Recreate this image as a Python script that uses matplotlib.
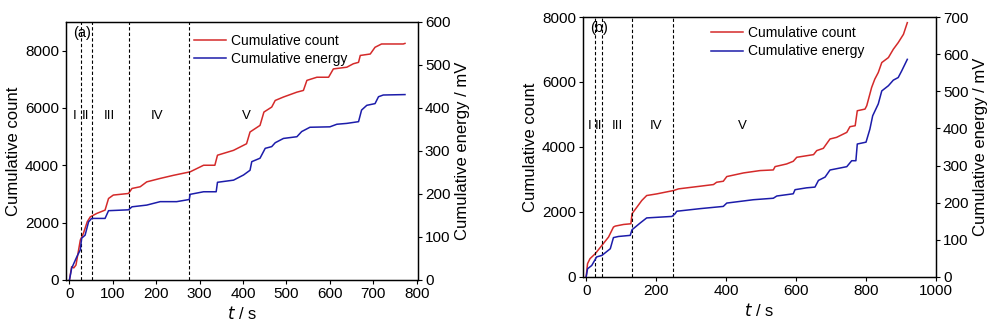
import numpy as np
import matplotlib
matplotlib.use("Agg")
import matplotlib.pyplot as plt

plt.rcParams["font.family"] = ["Liberation Sans", "DejaVu Sans"]
plt.rcParams["axes.linewidth"] = 0.9

RED = "#d42a2a"
BLUE = "#1c1caa"

# ---- panel (a) ----
A_CNT_T = [0, 5, 10, 15, 25, 32, 41, 48, 63, 82, 90, 101, 136, 144, 163, 178, 209, 240, 278,
           309, 335, 341, 378, 408, 416, 439, 448, 466, 474, 493, 524, 539, 547, 570, 597,
           608, 639, 654, 666, 670, 693, 704, 719, 769, 773]
A_CNT = [0, 460, 420, 520, 1390, 1620, 2030, 2200, 2320, 2435, 2840, 2960, 3015, 3190, 3250,
         3420, 3540, 3650, 3770, 4000, 4000, 4350, 4520, 4750, 5160, 5390, 5855, 6030, 6260,
         6380, 6550, 6610, 6960, 7070, 7070, 7360, 7420, 7540, 7590, 7830, 7880, 8115, 8230,
         8230, 8250]
A_EN_T = [0, 5, 17, 25, 28, 36, 44, 51, 82, 90, 136, 144, 178, 209, 247, 276, 278, 309, 338,
          341, 378, 401, 416, 420, 439, 451, 466, 474, 493, 524, 535, 554, 600, 616, 639, 666,
          673, 685, 704, 712, 723, 773]
A_EN = [0, 27, 54, 70, 97, 104, 135, 143, 143, 161, 163, 170, 174, 182, 182, 187, 199, 205,
        205, 227, 232, 244, 255, 275, 283, 306, 310, 319, 329, 333, 345, 355, 356, 362, 364,
        368, 395, 406, 410, 426, 430, 431]
A_DIV = [26, 51, 138, 276]
A_STAGE_X = [13, 38, 91, 201, 407]

# ---- panel (b) ----
B_CNT_T = [0, 4, 11, 26, 45, 64, 78, 83, 107, 128, 131, 145, 159, 173, 202, 226, 250, 264,
           326, 364, 373, 392, 402, 450, 497, 535, 540, 573, 592, 602, 650, 659, 678, 697,
           716, 745, 754, 769, 775, 797, 802, 816, 825, 835, 845, 864, 878, 892, 907, 918]
B_CNT = [0, 410, 563, 716, 972, 1228, 1535, 1565, 1616, 1637, 1944, 2148, 2353, 2506, 2557,
         2609, 2660, 2711, 2793, 2844, 2915, 2946, 3090, 3202, 3274, 3294, 3396, 3478, 3560,
         3683, 3765, 3888, 3959, 4246, 4297, 4450, 4624, 4655, 5115, 5166, 5269, 5831, 6087,
         6292, 6598, 6752, 7008, 7212, 7468, 7826]
B_EN_T = [0, 4, 16, 30, 45, 69, 78, 92, 126, 131, 154, 173, 245, 254, 259, 326, 392, 402,
          478, 535, 545, 592, 597, 630, 654, 664, 683, 697, 745, 759, 771, 775, 800, 811, 819,
          835, 845, 864, 878, 892, 902, 918]
B_EN = [0, 22, 31, 54, 58, 76, 106, 109, 112, 127, 145, 159, 163, 170, 177, 184, 190, 199,
        208, 212, 218, 224, 235, 240, 242, 260, 269, 288, 297, 313, 313, 358, 363, 398, 434,
        466, 501, 515, 530, 537, 555, 586]
B_DIV = [26, 45, 130, 249]
B_STAGE_X = [10, 35, 90, 200, 447]

STAGES = ["I", "II", "III", "IV", "V"]

fig = plt.figure(figsize=(10, 3.27), dpi=100)


def panel(rect, tc, c, te, e, divs, sx, sy, xlim, ylim, y2lim, xticks, yticks, y2ticks, tag, legpos):
    ax = fig.add_axes(rect)
    ax2 = ax.twinx()
    l1, = ax.plot(tc, c, color=RED, lw=1.1, label="Cumulative count")
    l2, = ax2.plot(te, e, color=BLUE, lw=1.1, label="Cumulative energy")
    for d in divs:
        ax.axvline(d, color="k", ls=(0, (3, 2)), lw=0.8)
    for s, x in zip(STAGES, sx):
        ax.text(x, sy, s, ha="center", va="center", fontsize=9.5)
    ax.set_xlim(*xlim); ax.set_ylim(*ylim); ax2.set_ylim(*y2lim)
    ax.set_xticks(xticks); ax.set_yticks(yticks); ax2.set_yticks(y2ticks)
    for a in (ax, ax2):
        a.tick_params(direction="out", length=3, width=0.8, labelsize=11, pad=2)
    ax.set_xlabel(r"$\it{t}$ / s", fontsize=12, labelpad=3)
    ax.set_ylabel("Cumulative count", fontsize=12, labelpad=3)
    ax2.set_ylabel("Cumulative energy / mV", fontsize=12, labelpad=3)
    ax.text(0.02, 0.985, tag, transform=ax.transAxes, ha="left", va="top", fontsize=10.5)
    ax2.legend(handles=[l1, l2], loc="upper left", bbox_to_anchor=legpos, frameon=False,
               fontsize=10, handlelength=2.3, handletextpad=0.35, labelspacing=0.3,
               borderpad=0.2, borderaxespad=0)
    return ax


panel([0.066, 0.144, 0.352, 0.789], A_CNT_T, A_CNT, A_EN_T, A_EN, A_DIV, A_STAGE_X, 5716,
      (-8, 803), (0, 9000), (0, 600), range(0, 801, 100), range(0, 8001, 2000),
      range(0, 601, 100), "(a)", (0.355, 0.965))
panel([0.583, 0.153, 0.353, 0.795], B_CNT_T, B_CNT, B_EN_T, B_EN, B_DIV, B_STAGE_X, 4634,
      (-9, 1000), (0, 8000), (0, 700), range(0, 1001, 200), range(0, 8001, 2000),
      range(0, 701, 100), "(b)", (0.355, 0.975))

fig.savefig("out.png", dpi=100)
